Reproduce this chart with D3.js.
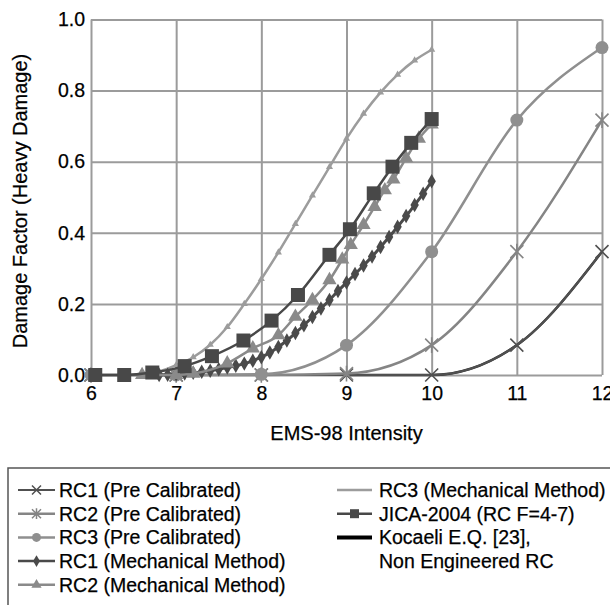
<!DOCTYPE html>
<html><head><meta charset="utf-8">
<script src="https://cdn.jsdelivr.net/npm/d3@7"></script>
<style>
body{margin:0;background:#fff;}
svg{display:block;font-family:"Liberation Sans",Arial,Helvetica,sans-serif;}
svg text{stroke:#000;stroke-width:0.25px;}
</style></head>
<body><svg id="c" width="610" height="605"></svg>
<script>
// ---- data ----
const xTicks = [6,7,8,9,10,11,12];
const yTicks = [0,0.2,0.4,0.6,0.8,1.0];
const xTitle = "EMS-98 Intensity";
const yTitle = "Damage Factor (Heavy Damage)";

const preX = [6,7,8,9,10,11,12];
const rc1Pre = [0,0,0,0,0,0.084,0.347];
const rc2Pre = [0,0,0,0.004,0.084,0.347,0.717];
const rc3Pre = [0,0,0.002,0.084,0.347,0.717,0.921];

const rc1MechX = [6.8,6.9,7.0,7.1,7.2,7.3,7.4,7.5,7.6,7.7,7.8,7.9,8.0,8.1,8.2,8.3,8.4,8.5,8.6,8.7,8.8,8.9,9.0,9.1,9.2,9.3,9.4,9.5,9.6,9.7,9.8,9.9,10.0];
const rc1Mech = [0,0.001,0.002,0.004,0.006,0.009,0.012,0.016,0.021,0.026,0.032,0.04,0.05,0.063,0.079,0.097,0.118,0.14,0.163,0.187,0.211,0.236,0.26,0.284,0.308,0.333,0.36,0.388,0.417,0.447,0.478,0.51,0.545];

const rc2MechX = [6.6,7.0,7.2,7.6,7.9,8.2,8.4,8.6,8.8,8.95,9.05,9.2,9.33,9.45,9.55,9.7,9.85,10.0];
const rc2Mech = [0,0,0.004,0.033,0.075,0.112,0.164,0.211,0.267,0.325,0.366,0.422,0.473,0.52,0.55,0.61,0.665,0.705];

const rc3MechX = [6.6,6.8,7.0,7.2,7.4,7.6,7.8,8.0,8.2,8.4,8.6,8.8,9.0,9.2,9.4,9.6,9.8,10.0];
const rc3Mech = [0,0.01,0.028,0.05,0.085,0.135,0.2,0.27,0.345,0.425,0.505,0.585,0.665,0.735,0.795,0.845,0.885,0.915];

const jicaX = [6.05,6.39,6.72,7.1,7.42,7.79,8.12,8.43,8.8,9.04,9.32,9.54,9.76,10.0];
const jica = [0,0,0.007,0.025,0.053,0.097,0.153,0.225,0.338,0.41,0.511,0.586,0.653,0.72];

const kocaeliX = [9,10,11,12];
const kocaeli = [0,0,0.084,0.347];

const legendLabels = ["RC1 (Pre Calibrated)","RC2 (Pre Calibrated)","RC3 (Pre Calibrated)","RC1 (Mechanical Method)","RC2 (Mechanical Method)","RC3 (Mechanical Method)","JICA-2004 (RC F=4-7)","Kocaeli E.Q. [23],"];
const legendExtra = "Non Engineered RC";

// ---- chart ----
const svg = d3.select("#c");
const L=91,R=602,T=19.5,B=375;
const x = d3.scaleLinear().domain([6,12]).range([L,R]);
const y = d3.scaleLinear().domain([0,1]).range([B,T]);
const FS = "19.5px";

const gridCol="#9b9b9b";
const ax = svg.append("g").attr("transform",`translate(0,${B})`)
  .call(d3.axisBottom(x).tickValues(xTicks).tickSize(-(B-T)).tickPadding(11).tickFormat(d3.format("d")));
const ay = svg.append("g").attr("transform",`translate(${L},0)`)
  .call(d3.axisLeft(y).tickValues(yTicks).tickSize(-(R-L)).tickPadding(6).tickFormat(d3.format(".1f")));
[ax,ay].forEach(g=>{
  g.select(".domain").remove();
  g.selectAll(".tick line").attr("stroke",gridCol).attr("stroke-width",2);
  g.selectAll(".tick text").attr("fill","#000").style("font-size",FS);
});

svg.append("text").attr("x",(L+R)/2).attr("y",440).attr("text-anchor","middle")
  .style("font-size","20px").attr("fill","#000").text(xTitle);
svg.append("text").attr("transform","translate(27,201) rotate(-90)").attr("text-anchor","middle")
  .style("font-size","20px").attr("fill","#000").text(yTitle);

// marker generators
function markerPath(type,s){
  const h=s/2;
  if(type==="x") return `M${-h},${-h}L${h},${h}M${-h},${h}L${h},${-h}`;
  if(type==="star") return `M${-h},${-h}L${h},${h}M${-h},${h}L${h},${-h}M0,${-h*1.2}L0,${h*1.2}`;
  if(type==="circle") return d3.symbol(d3.symbolCircle, s*s*0.785)();
  if(type==="square") return d3.symbol(d3.symbolSquare, s*s)();
  if(type==="diamond") return d3.symbol(d3.symbolDiamond, s*s*0.5)();
  if(type==="triangle") return d3.symbol(d3.symbolTriangle, s*s*0.45)();
  return "";
}
const series = [
  {xs:kocaeliX, ys:kocaeli, color:"#2e2e2e", w:2.5, marker:null},
  {xs:preX, ys:rc1Pre, color:"#505050", w:2.2, marker:"x", ms:13, mw:1.6},
  {xs:preX, ys:rc2Pre, color:"#858585", w:2.5, marker:"star", ms:13, mw:1.6},
  {xs:preX, ys:rc3Pre, color:"#8f8f8f", w:2.5, marker:"circle", ms:13},
  {xs:rc3MechX, ys:rc3Mech, color:"#9c9c9c", w:2.5, marker:"triangle", ms:7},
  {xs:rc1MechX, ys:rc1Mech, color:"#4a4a4a", w:3, marker:"diamond", ms:11},
  {xs:rc2MechX, ys:rc2Mech, color:"#8a8a8a", w:2.5, marker:"triangle", ms:14},
  {xs:jicaX, ys:jica, color:"#484848", w:2.5, marker:"square", ms:14},
];
const line = d3.line().x(d=>x(d[0])).y(d=>y(d[1])).curve(d3.curveMonotoneX);
series.forEach(s=>{
  const pts = s.xs.map((v,i)=>[v,s.ys[i]]);
  svg.append("path").datum(pts).attr("d",line).attr("fill","none")
    .attr("stroke",s.color).attr("stroke-width",s.w);
  if(s.marker){
    const stroked = (s.marker==="x"||s.marker==="star");
    svg.append("g").selectAll("path").data(pts).join("path")
      .attr("transform",d=>`translate(${x(d[0])},${y(d[1])})`)
      .attr("d",markerPath(s.marker,s.ms))
      .attr("fill",stroked?"none":s.color)
      .attr("stroke",s.color).attr("stroke-width",stroked?s.mw:0);
  }
});

// legend
svg.append("path").attr("d","M8,612V468H612").attr("fill","none").attr("stroke","#555").attr("stroke-width",1.5);
const legSpec = [
  {c:"#505050",m:"x",ms:9,w:2},
  {c:"#858585",m:"star",ms:9,w:2.5},
  {c:"#8f8f8f",m:"circle",ms:9,w:2.5},
  {c:"#4a4a4a",m:"diamond",ms:9,w:2.5},
  {c:"#8a8a8a",m:"triangle",ms:10,w:2.5},
  {c:"#9c9c9c",m:null,w:2.5},
  {c:"#484848",m:"square",ms:9,w:2.5},
  {c:"#000",m:null,w:4},
];
const rowY = i=>490+i*23.7;
legendLabels.forEach((lab,i)=>{
  const col = i<5?0:1, row = i<5?i:i-5;
  const x0 = col? 337:18, x1 = col?372:55, tx = col?379:59;
  const yy = rowY(row);
  const sp = legSpec[i];
  svg.append("line").attr("x1",x0).attr("x2",x1).attr("y1",yy).attr("y2",yy)
    .attr("stroke",sp.c).attr("stroke-width",sp.w);
  if(sp.m){
    const stroked=(sp.m==="x"||sp.m==="star");
    svg.append("path").attr("transform",`translate(${(x0+x1)/2},${yy})`)
      .attr("d",markerPath(sp.m,sp.ms)).attr("fill",stroked?"none":sp.c)
      .attr("stroke",sp.c).attr("stroke-width",stroked?1.5:0);
  }
  svg.append("text").attr("x",tx).attr("y",yy).attr("dy","0.35em")
    .style("font-size",FS).attr("fill","#000").text(lab);
});
svg.append("text").attr("x",379).attr("y",rowY(3)).attr("dy","0.35em")
  .style("font-size",FS).attr("fill","#000").text(legendExtra);
</script></body></html>
